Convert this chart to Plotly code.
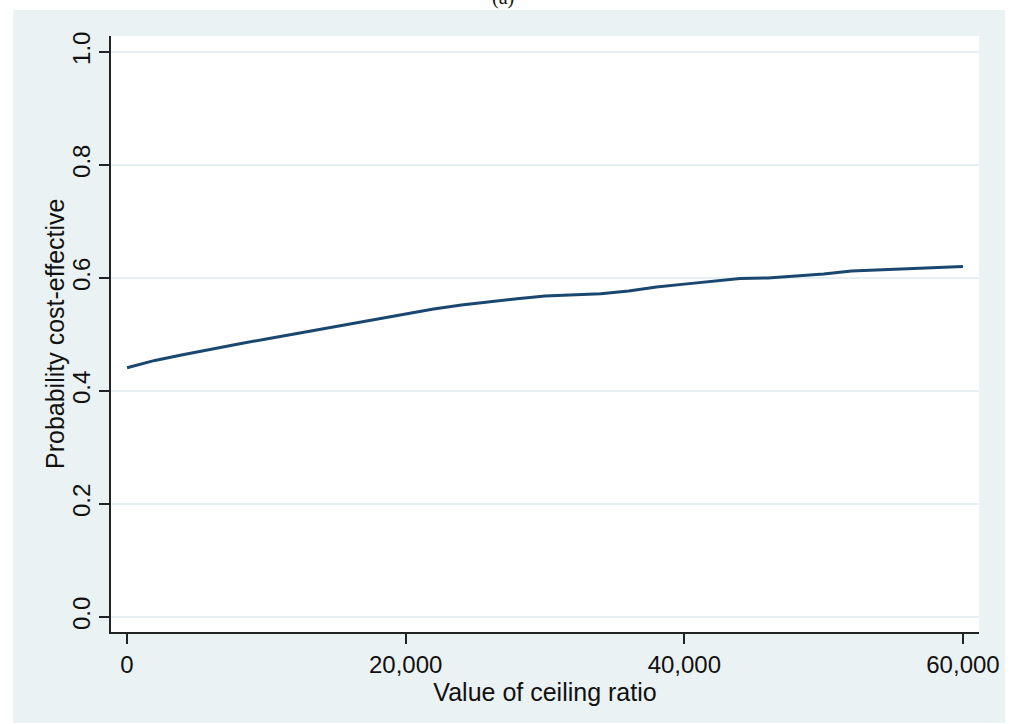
import plotly.graph_objects as go

# Ceiling ratio (willingness to pay per unit of effect)
ceiling_ratio = [0, 2000, 4000, 6000, 8000, 10000, 12000, 14000, 16000, 18000,
                 20000, 22000, 24000, 26000, 28000, 30000, 32000, 34000, 36000,
                 38000, 40000, 42000, 44000, 46000, 48000, 50000, 52000, 54000,
                 56000, 58000, 60000]

# Probability the intervention is cost-effective at each ceiling ratio
prob_ce = [0.441, 0.454, 0.464, 0.474, 0.483, 0.492, 0.501, 0.510, 0.519, 0.528,
           0.536, 0.545, 0.552, 0.558, 0.563, 0.568, 0.570, 0.572, 0.577,
           0.584, 0.589, 0.594, 0.599, 0.600, 0.603, 0.607, 0.612, 0.614,
           0.617, 0.619, 0.620]

x_ticks = [0, 20000, 40000, 60000]
y_ticks = [0.0, 0.2, 0.4, 0.6, 0.8, 1.0]

W, H = 1012, 724
L, R, T, B = 111, 33, 36, 92
pw, ph = W - L - R, H - T - B


def px_x(p):
    return (p - L) / pw


def px_y(p):
    return (H - B - p) / ph


FONT = "Liberation Sans, Arial, sans-serif"
INK = "#111111"
GRID = "#E6EFF1"
BAND = "#EAF2F3"
TICK_SIZE = 24
TITLE_SIZE = 25

fig = go.Figure()
fig.add_trace(go.Scatter(
    x=ceiling_ratio, y=prob_ce, mode="lines",
    line=dict(color="#1A476F", width=3),
    showlegend=False, hoverinfo="x+y",
))

fig.update_layout(
    width=W, height=H,
    margin=dict(l=L, r=R, t=T, b=B, pad=0),
    paper_bgcolor="white",
    plot_bgcolor="white",
    font=dict(family=FONT, size=TICK_SIZE, color=INK),
    shapes=[
        dict(type="rect", xref="paper", yref="paper", layer="below",
             x0=px_x(13), x1=px_x(1005), y0=px_y(723), y1=px_y(10),
             fillcolor=BAND, line=dict(width=0)),
        dict(type="rect", xref="paper", yref="paper", layer="below",
             x0=0, x1=1, y0=0, y1=1,
             fillcolor="white", line=dict(width=0)),
    ],
    annotations=[
        dict(text="(a)", xref="paper", yref="paper",
             x=px_x(503), y=px_y(-2), xanchor="center", yanchor="middle",
             showarrow=False,
             font=dict(family="Liberation Serif, Times New Roman, serif",
                       size=20, color=INK)),
        # y-axis title placed beside the rotated tick labels
        dict(text="Probability cost-effective", xref="paper", yref="paper",
             x=px_x(55), y=px_y(334), xanchor="center", yanchor="middle",
             textangle=-90, showarrow=False,
             font=dict(family=FONT, size=TITLE_SIZE, color=INK)),
    ],
)

fig.update_xaxes(
    range=[-1150, 61150],
    tickvals=x_ticks,
    tickformat=",",
    showgrid=False, zeroline=False,
    showline=True, linecolor="#222222", linewidth=1.5,
    ticks="outside", ticklen=10, tickwidth=1.5, tickcolor="#222222",
    tickfont=dict(size=TICK_SIZE, color=INK),
    title=dict(text="Value of ceiling ratio",
               font=dict(size=TITLE_SIZE, color=INK), standoff=0),
)

fig.update_yaxes(
    range=[-0.0265, 1.028],
    tickvals=y_ticks,
    tickformat=".1f",
    tickangle=-90,
    showgrid=True, gridcolor=GRID, gridwidth=1.5,
    zeroline=False,
    showline=True, linecolor="#222222", linewidth=1.5,
    ticks="outside", ticklen=10, tickwidth=1.5, tickcolor="#222222",
    tickfont=dict(size=TICK_SIZE, color=INK),
)

fig.write_html("out.html")
